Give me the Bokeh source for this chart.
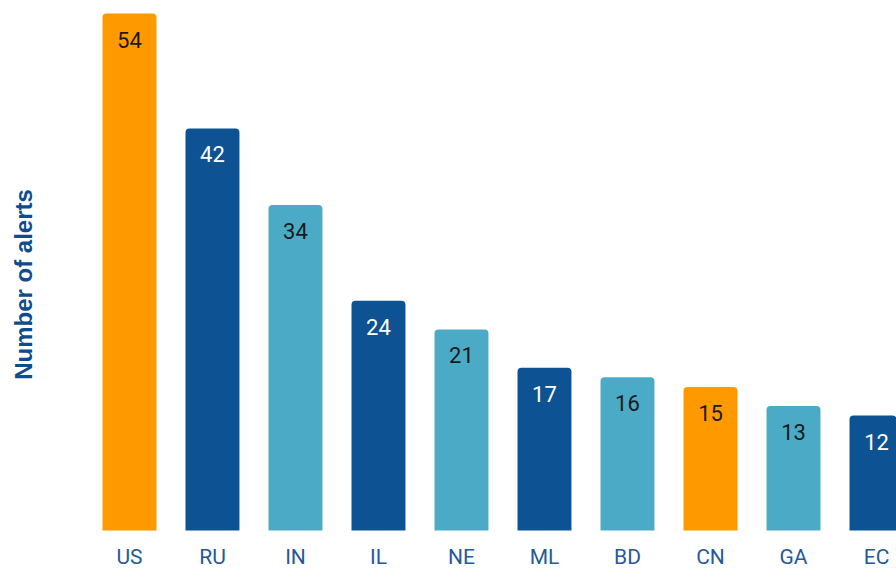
from bokeh.plotting import figure
from bokeh.models import ColumnDataSource, Range1d, FixedTicker
from bokeh.embed import file_html
from bokeh.resources import INLINE
from bokeh.core.properties import value

countries = ["US", "RU", "IN", "IL", "NE", "ML", "BD", "CN", "GA", "EC"]
alerts = [54, 42, 34, 24, 21, 17, 16, 15, 13, 12]
bar_colors = ["#FF9900", "#0D5394", "#4BABC6", "#0D5394", "#4BABC6",
              "#0D5394", "#4BABC6", "#FF9900", "#4BABC6", "#0D5394"]
value_colors = ["#1A1A1A", "#FFFFFF", "#1A1A1A", "#FFFFFF", "#1A1A1A",
                "#FFFFFF", "#1A1A1A", "#1A1A1A", "#1A1A1A", "#FFFFFF"]

xs = list(range(len(countries)))
src = ColumnDataSource(dict(
    x=xs, top=alerts, color=bar_colors, vcolor=value_colors,
    vtxt=[str(v) for v in alerts], name=countries,
    zero=[0] * len(countries),
))

p = figure(width=896, height=568, output_backend="svg", toolbar_location=None,
           x_range=Range1d(-0.349, 9.241), y_range=Range1d(-3.97, 55.36),
           min_border_left=100, min_border_right=0, min_border_top=0,
           min_border_bottom=0)

p.vbar(x="x", top="top", bottom=0, width=0.65, source=src,
       fill_color="color", line_color=None, border_radius=(4, 4, 0, 0))

p.text(x="x", y="top", text="vtxt", source=src, text_color="vcolor",
       text_align="center", text_baseline="middle", y_offset=26,
       text_font=value("Roboto"), text_font_size="22px")

p.text(x="x", y="zero", text="name", source=src, text_color="#24599A",
       text_align="center", text_baseline="middle", y_offset=27,
       text_font=value("Roboto"), text_font_size="21px")

p.xaxis.visible = False
p.yaxis.ticker = FixedTicker(ticks=[])
p.yaxis.axis_label = "Number of alerts"
p.yaxis.axis_label_text_font = "Liberation Sans"
p.yaxis.axis_label_text_font_style = "bold"
p.yaxis.axis_label_text_font_size = "24px"
p.yaxis.axis_label_text_color = "#0D4C8F"
p.yaxis.axis_label_standoff = 64
p.yaxis.major_tick_line_color = None
p.yaxis.minor_tick_line_color = None
p.yaxis.axis_line_color = None
p.grid.visible = False
p.outline_line_color = None

open("out.html", "w").write(file_html(p, INLINE))
